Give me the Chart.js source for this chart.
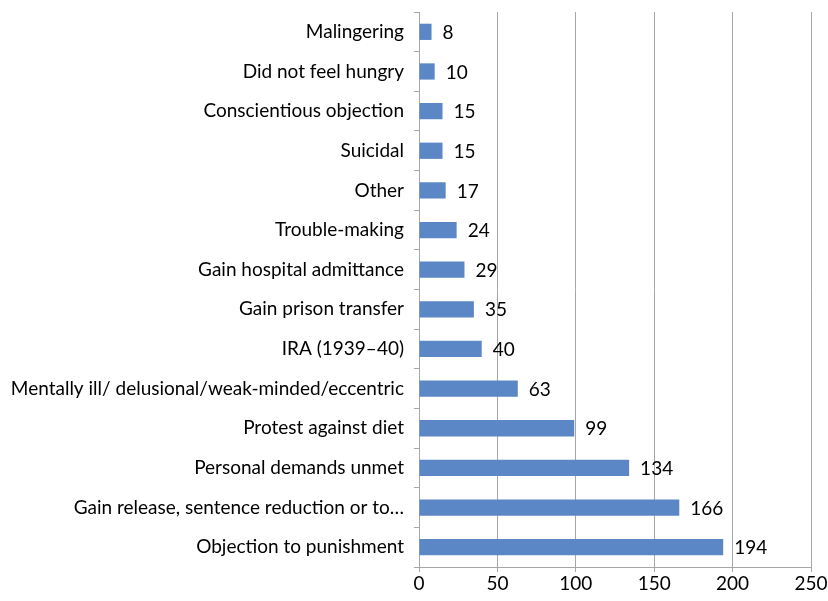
<!DOCTYPE html>
<html>
<head>
<meta charset="utf-8">
<script src="https://cdn.jsdelivr.net/npm/chart.js@4"></script>
<style>
  html, body { margin: 0; padding: 0; background: #fff; }
  #wrap { width: 828px; height: 601px; }
</style>
</head>
<body>
<div id="wrap"><canvas id="chart-reasons"></canvas></div>
<script>
var reasons = [
    'Malingering',
    'Did not feel hungry',
    'Conscientious objection',
    'Suicidal',
    'Other',
    'Trouble-making',
    'Gain hospital admittance',
    'Gain prison transfer',
    'IRA (1939\u201340)',
    'Mentally ill/ delusional/weak-minded/eccentric',
    'Protest against diet',
    'Personal demands unmet',
    'Gain release, sentence reduction or to\u2026',
    'Objection to punishment'
];
var counts = [8, 10, 15, 15, 17, 24, 29, 35, 40, 63, 99, 134, 166, 194];
var xTicks = [0, 50, 100, 150, 200, 250];

var fontFamily = 'Lato, "Open Sans", sans-serif';

// value labels next to the bar ends
var valueLabels = {
    id: 'valueLabels',
    afterDatasetsDraw: function(chart) {
        var ctx = chart.ctx;
        var meta = chart.getDatasetMeta(0);
        ctx.save();
        ctx.font = '19px ' + fontFamily;
        ctx.fillStyle = '#000';
        ctx.textAlign = 'left';
        ctx.textBaseline = 'middle';
        meta.data.forEach(function(bar, i) {
            ctx.fillText(String(counts[i]), bar.x + 11, bar.y + 1);
        });
        ctx.restore();
    }
};

var ctx = document.getElementById('chart-reasons');
var myChart = new Chart(ctx, {
    type: 'bar',
    data: {
        labels: reasons,
        datasets: [{
            data: counts,
            backgroundColor: '#5b87c6',
            borderWidth: 0,
            barPercentage: 0.41,
            categoryPercentage: 1
        }]
    },
    options: {
        indexAxis: 'y',
        responsive: true,
        maintainAspectRatio: false,
        animation: false,
        layout: { padding: { top: 12, right: 17, bottom: 0, left: 0 } },
        plugins: {
            legend: { display: false },
            tooltip: { enabled: false }
        },
        scales: {
            x: {
                min: 0,
                max: 250,
                afterBuildTicks: function(scale) {
                    scale.ticks = xTicks.map(function(v) { return { value: v }; });
                },
                afterFit: function(scale) {
                    scale.height = 601 - 567;
                    scale.paddingLeft = 0;
                    scale.paddingRight = 0;
                },
                grid: { color: '#a6a6a6', lineWidth: 1, tickLength: 5 },
                border: { color: '#a6a6a6' },
                ticks: {
                    color: '#000',
                    font: { family: fontFamily, size: 19 },
                    padding: 0,
                    maxRotation: 0
                }
            },
            y: {
                afterFit: function(scale) {
                    scale.width = 419;
                    scale.paddingTop = 0;
                    scale.paddingBottom = 0;
                },
                grid: {
                    drawOnChartArea: false,
                    offset: true,
                    color: '#a6a6a6',
                    tickLength: 5
                },
                border: { color: '#a6a6a6' },
                ticks: {
                    color: '#000',
                    font: { family: fontFamily, size: 19 },
                    padding: 10,
                    autoSkip: false
                }
            }
        }
    },
    plugins: [valueLabels]
});
</script>
</body>
</html>
